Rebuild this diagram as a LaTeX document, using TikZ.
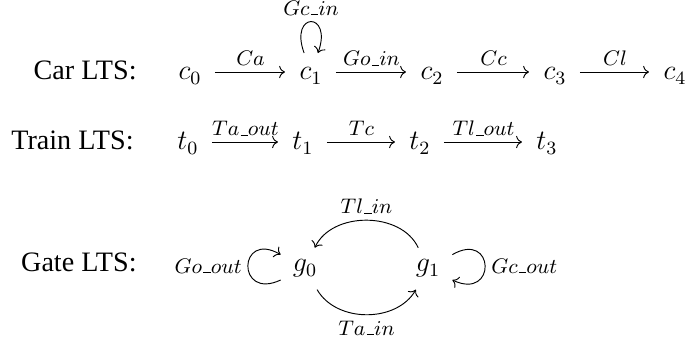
\documentclass[tikz,border=0pt]{standalone}
\usepackage[no-math]{fontspec}
\setmainfont{Liberation Serif}
\usetikzlibrary{arrows.meta}
\newcommand{\usc}{\mbox{\kern.06em\rule{.35em}{.4pt}}}

\begin{document}
\begin{tikzpicture}[
  x=0.015cm, y=0.015cm,
  >={To},
  lts/.style={font=\fontsize{12}{14}\selectfont,anchor=base east,inner sep=0pt},
  st/.style={font=\fontsize{12}{14}\selectfont,anchor=base,
    text height=6.8pt,text depth=0pt,inner xsep=4pt,inner ysep=4.5pt},
  gst/.style={font=\fontsize{12}{14}\selectfont,anchor=base,inner sep=5pt},
  tr/.style={->,shorten <=1.5pt,shorten >=2pt},
  lbl/.style={font=\fontsize{9}{11}\selectfont,inner sep=2.5pt}
]
\useasboundingbox (0,0) rectangle (687,340);

% car
\node[lts] (carlts) at (137,260) {Car LTS:};
\node[st] (c0) at (190,260) {$c_0$};
\node[st] (c1) at (311,260) {$c_1$};
\node[st] (c2) at (432,260) {$c_2$};
\node[st] (c3) at (555,260) {$c_3$};
\node[st] (c4) at (675,260) {$c_4$};

\draw[tr] (c0) -- node[lbl,above] {$Ca$} (c1);
\draw[tr] (c1) -- node[lbl,above] {$Go\usc in$} (c2);
\draw[tr] (c2) -- node[lbl,above] {$Cc$} (c3);
\draw[tr] (c3) -- node[lbl,above] {$Cl$} (c4);
\draw[->] (c1) to[out=110,in=70,distance=19pt] node[lbl,above] {$Gc\usc in$} (c1);

% train
\node[lts] (trainlts) at (134,190) {Train LTS:};
\node[st] (t0) at (188,190) {$t_0$};
\node[st] (t1) at (303,190) {$t_1$};
\node[st] (t2) at (420,190) {$t_2$};
\node[st] (t3) at (547,190) {$t_3$};

\draw[tr] (t0) -- node[lbl,above] {$Ta\usc out$} (t1);
\draw[tr] (t1) -- node[lbl,above] {$Tc$} (t2);
\draw[tr] (t2) -- node[lbl,above] {$Tl\usc out$} (t3);

% gate
\node[lts] (gatelts) at (137,68) {Gate LTS:};
\node[gst] (g0) at (305,68) {$g_0$};
\node[gst] (g1) at (428,68) {$g_1$};

\draw[->] (g0) to[out=205,in=150,distance=21pt] node[lbl,left] {$Go\usc out$} (g0);
\draw[->] (g1) to[out=30,in=-25,distance=21pt] node[lbl,right] {$Gc\usc out$} (g1);
\draw[->] (g1) to[out=115,in=65] node[lbl,above] {$Tl\usc in$} (g0);
\draw[->] (g0) to[out=-60,in=-120] node[lbl,below] {$Ta\usc in$} (g1);
\end{tikzpicture}
\end{document}
